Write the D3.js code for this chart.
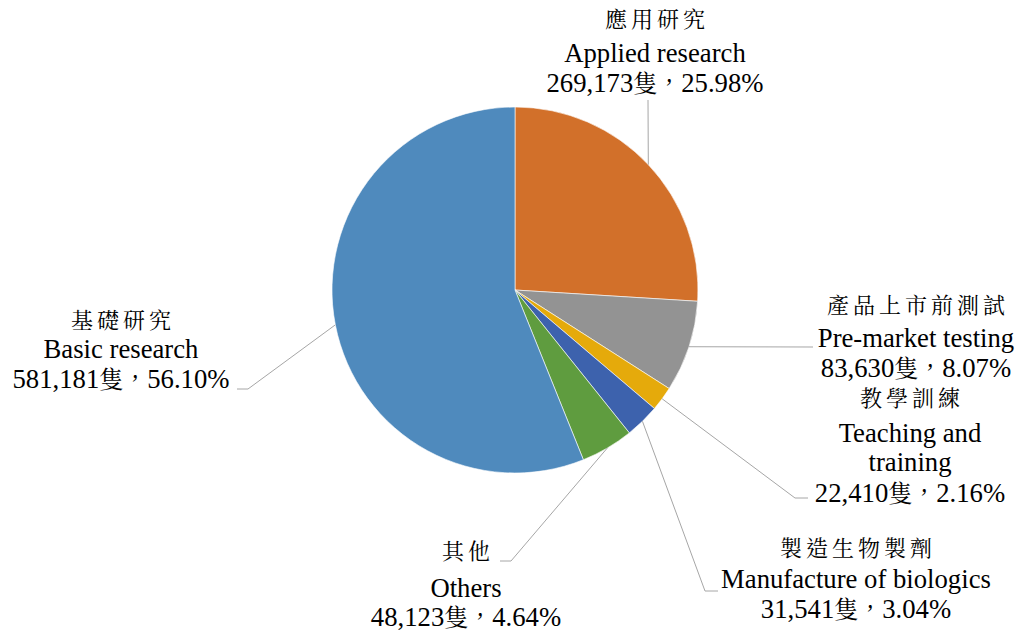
<!DOCTYPE html>
<html lang="zh-Hant">
<head>
  <meta charset="utf-8">
  <title>Pie chart</title>
  <script src="https://d3js.org/d3.v7.min.js"></script>
  <style>
    body { margin: 0; background: #fff; }
    .lbl { font-family: "Times New Roman", "Liberation Serif", serif; font-size: 26.7px; fill: #000; }
    .zh { font-family: "Noto Serif CJK TC", serif; font-size: 22px; letter-spacing: 4px; }
    .cj { font-family: "Noto Serif CJK TC", serif; font-size: 24px; }
    .leader { fill: none; stroke: #a6a6a6; stroke-width: 1; }
  </style>
</head>
<body>
  <svg width="1019" height="637"></svg>
  <script>
    // data
    var zhNames = ["應用研究", "產品上市前測試", "教學訓練", "製造生物製劑", "其他", "基礎研究"];
    var enNames = [["Applied research"], ["Pre-market testing"], ["Teaching and", "training"],
                   ["Manufacture of biologics"], ["Others"], ["Basic research"]];
    var counts = [269173, 83630, 22410, 31541, 48123, 581181];
    var colors = ["#d2702a", "#939393", "#e5aa0b", "#3d62ad", "#5f9c3f", "#4f8abd"];

    // label layout: text centre x, line baselines, leader end point
    var labelPos = [
      { x: 655, ys: [27, 62, 92], lx: 648, ly: 100, side: "up" },
      { x: 916, ys: [313, 347, 377], lx: 813, ly: 347, side: "left" },
      { x: 910, ys: [406, 442, 471, 502], lx: 808, ly: 498, side: "left" },
      { x: 856, ys: [556, 588, 618], lx: 718, ly: 591, side: "left" },
      { x: 466, ys: [559, 597, 626], lx: 500, ly: 561, side: "right" },
      { x: 121, ys: [328, 358, 388], lx: 237, ly: 389, side: "right" }
    ];

    var svg = d3.select("svg");
    var cx = 515, cy = 290, r = 183;
    var total = d3.sum(counts);
    var fmt = d3.format(",");

    var pie = d3.pie().sort(null).value(function (d) { return d; });
    var arcs = pie(counts);
    var arc = d3.arc().innerRadius(0).outerRadius(r);

    var g = svg.append("g").attr("transform", "translate(" + cx + "," + cy + ")");

    g.selectAll("path")
      .data(arcs)
      .enter().append("path")
      .attr("d", arc)
      .attr("fill", function (d, i) { return colors[i]; })
      .attr("stroke", "#fff")
      .attr("stroke-width", 0.6);

    // leader lines: from slice edge midpoint to label
    arcs.forEach(function (d, i) {
      var a = (d.startAngle + d.endAngle) / 2;
      var x0 = cx + r * Math.sin(a), y0 = cy - r * Math.cos(a);
      var p = labelPos[i];
      var pts;
      if (p.side === "up" || i === 1) {
        pts = [[x0, y0], [p.lx, p.ly]];
      } else if (p.side === "left") {
        pts = [[x0, y0], [p.lx - 13, p.ly], [p.lx, p.ly]];
      } else {
        pts = [[x0, y0], [p.lx + 11, p.ly], [p.lx, p.ly]];
      }
      svg.append("path").attr("class", "leader").attr("d", d3.line()(pts));
    });

    // labels
    labelPos.forEach(function (p, i) {
      var t = svg.append("text").attr("class", "lbl").attr("text-anchor", "middle");
      var k = 0;
      t.append("tspan").attr("class", "zh").attr("x", p.x).attr("dx", 2).attr("y", p.ys[k++]).text(zhNames[i]);
      enNames[i].forEach(function (s) {
        t.append("tspan").attr("x", p.x).attr("y", p.ys[k++]).text(s);
      });
      t.append("tspan").attr("x", p.x).attr("y", p.ys[k]).text(fmt(counts[i]));
      t.append("tspan").attr("class", "cj").text("隻，");
      t.append("tspan").text((counts[i] / total * 100).toFixed(2) + "%");
    });
  </script>
</body>
</html>
